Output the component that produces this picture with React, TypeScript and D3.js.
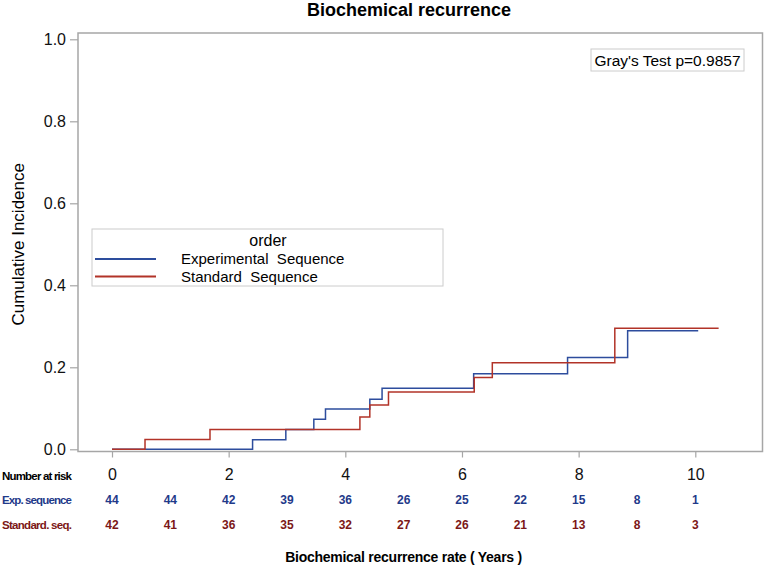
import * as d3 from "d3";
import { useRef, useEffect } from "react";

// step points: [years, cumulative incidence]
const expSteps: [number, number][] = [
    [0, 0], [2.41, 0.023], [2.98, 0.048], [3.46, 0.073], [3.66, 0.098],
    [4.42, 0.122], [4.63, 0.149], [6.2, 0.184], [7.81, 0.224], [8.84, 0.289], [10.05, 0.289],
];
const stdSteps: [number, number][] = [
    [0, 0], [0.566, 0.024], [1.68, 0.048], [4.25, 0.079], [4.42, 0.108],
    [4.74, 0.14], [6.21, 0.175], [6.52, 0.211], [8.62, 0.295], [10.4, 0.295],
];

const xTicks = [0, 2, 4, 6, 8, 10];
const yTicks = [0, 0.2, 0.4, 0.6, 0.8, 1.0];
const riskYears = [0, 1, 2, 3, 4, 5, 6, 7, 8, 9, 10];
const expAtRisk = [44, 44, 42, 39, 36, 26, 25, 22, 15, 8, 1];
const stdAtRisk = [42, 41, 36, 35, 32, 27, 26, 21, 13, 8, 3];

const seriesNames = ["Experimental  Sequence", "Standard  Sequence"];
const lineColors = ["#2d4d9d", "#b23328"];
const riskColors = ["#1f3a8a", "#7c1717"];

const width = 765;
const height = 568;
const frame = { left: 78, right: 762.5, top: 33, bottom: 451.5 };
const font = "'Liberation Sans', Arial, sans-serif";

export default function App() {
    const ref = useRef<SVGGElement>(null);

    useEffect(() => {
        const g = d3.select(ref.current);
        g.selectAll("*").remove();

        const xScale = d3.scaleLinear().domain([0, 10]).range([112, 695.3]);
        const yScale = d3.scaleLinear().domain([0, 1]).range([449.3, 39.3]);

        // title
        g.append("text")
            .attr("x", 409).attr("y", 16)
            .attr("text-anchor", "middle")
            .attr("font-size", 18).attr("font-weight", "bold")
            .text("Biochemical recurrence");

        // frame
        g.append("rect")
            .attr("x", frame.left).attr("y", frame.top)
            .attr("width", frame.right - frame.left)
            .attr("height", frame.bottom - frame.top)
            .attr("fill", "none").attr("stroke", "#a6a6a6").attr("stroke-width", 1.5);

        // y axis
        const leftAxis = d3.axisLeft(yScale)
            .tickValues(yTicks)
            .tickSize(8)
            .tickPadding(4)
            .tickFormat(d3.format(".1f"));
        const ya = g.append("g").attr("transform", `translate(${frame.left},0)`).call(leftAxis);
        ya.select(".domain").remove();
        ya.selectAll("line").attr("stroke", "#a6a6a6").attr("stroke-width", 1.2);
        ya.selectAll("text").attr("font-size", 16).attr("font-family", font).attr("fill", "#111");

        g.append("text")
            .attr("transform", `translate(24,${(yScale(0) + yScale(1)) / 2}) rotate(-90)`)
            .attr("text-anchor", "middle")
            .attr("font-size", 17)
            .text("Cumulative Incidence");

        // x axis
        const bottomAxis = d3.axisBottom(xScale)
            .tickValues(xTicks)
            .tickSize(6)
            .tickPadding(11)
            .tickFormat(d3.format("d"));
        const xa = g.append("g").attr("transform", `translate(0,${frame.bottom})`).call(bottomAxis);
        xa.select(".domain").remove();
        xa.selectAll("line").attr("stroke", "#a6a6a6").attr("stroke-width", 1.2);
        xa.selectAll("text").attr("font-size", 16).attr("font-family", font).attr("fill", "#111");

        // curves
        const line = d3.line<[number, number]>()
            .x(d => xScale(d[0]))
            .y(d => yScale(d[1]))
            .curve(d3.curveStepAfter);
        [expSteps, stdSteps].forEach((steps, i) => {
            g.append("path")
                .datum(steps)
                .attr("d", line)
                .attr("fill", "none")
                .attr("stroke", lineColors[i])
                .attr("stroke-width", 1.5);
        });

        // Gray's test box
        g.append("rect")
            .attr("x", 591).attr("y", 49).attr("width", 153).attr("height", 22)
            .attr("fill", "white").attr("stroke", "#cccccc");
        g.append("text")
            .attr("x", 667.5).attr("y", 66)
            .attr("text-anchor", "middle")
            .attr("font-size", 15.5)
            .attr("textLength", 146)
            .text("Gray's Test p=0.9857");

        // legend
        const leg = g.append("g");
        leg.append("rect")
            .attr("x", 92).attr("y", 229).attr("width", 351).attr("height", 57)
            .attr("fill", "white").attr("stroke", "#cccccc");
        leg.append("text")
            .attr("x", 268).attr("y", 246)
            .attr("text-anchor", "middle").attr("font-size", 16)
            .text("order");
        seriesNames.forEach((name, i) => {
            const y = 259 + i * 17.5;
            leg.append("line")
                .attr("x1", 95).attr("x2", 156).attr("y1", y).attr("y2", y)
                .attr("stroke", lineColors[i]).attr("stroke-width", 2);
            leg.append("text")
                .attr("x", 181).attr("y", y + 5)
                .attr("font-size", 15)
                .attr("xml:space", "preserve")
                .style("white-space", "pre")
                .text(name);
        });

        // number at risk table
        g.append("text")
            .attr("x", 2).attr("y", 480)
            .attr("font-size", 11.5).attr("font-weight", "bold")
            .attr("textLength", 70)
            .text("Number at risk");
        const rows = [
            { label: "Exp. sequence", values: expAtRisk, y: 504 },
            { label: "Standard. seq.", values: stdAtRisk, y: 529 },
        ];
        rows.forEach((row, i) => {
            g.append("text")
                .attr("x", 2).attr("y", row.y)
                .attr("font-size", 11.5).attr("font-weight", "bold")
                .attr("textLength", 70)
                .attr("fill", riskColors[i])
                .text(row.label);
            g.selectAll(`.risk-${i}`)
                .data(row.values)
                .join("text")
                .attr("class", `risk-${i}`)
                .attr("x", (_, j) => xScale(riskYears[j]))
                .attr("y", row.y)
                .attr("text-anchor", "middle")
                .attr("font-size", 12).attr("font-weight", "bold")
                .attr("fill", riskColors[i])
                .text(d => d);
        });

        g.append("text")
            .attr("x", xScale(5)).attr("y", 562)
            .attr("text-anchor", "middle")
            .attr("font-size", 14).attr("font-weight", "bold")
            .attr("textLength", 237)
            .text("Biochemical recurrence rate ( Years )");
    }, []);

    return (
        <svg width={width} height={height} viewBox={`0 0 ${width} ${height}`}
             style={{ position: "absolute", left: 0, top: 0, background: "white" }}
             fontFamily={font}>
            <g ref={ref}></g>
        </svg>
    );
}
